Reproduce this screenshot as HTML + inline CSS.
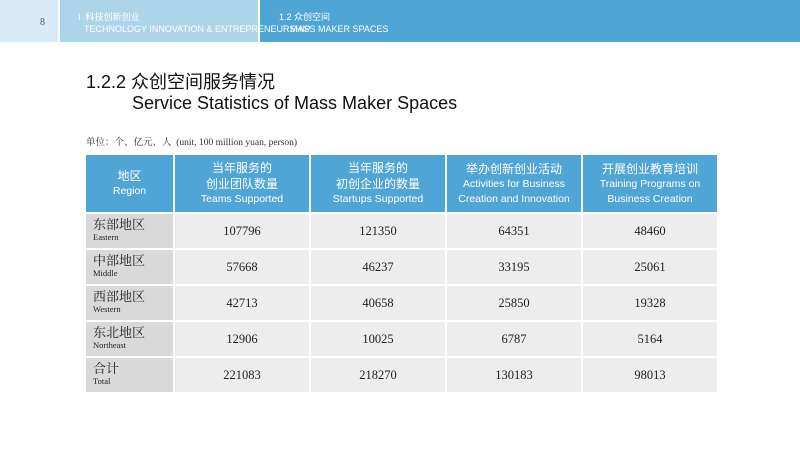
<!DOCTYPE html>
<html><head><meta charset="utf-8">
<style>
body{margin:0;width:800px;height:463px;background:#fff;position:relative;overflow:hidden;font-family:"Liberation Sans","Noto Sans CJK SC",sans-serif;}
.band{position:absolute;top:0;height:42px;}
.hd{position:absolute;color:#fff;font-size:9px;line-height:11px;}
table{position:absolute;left:86px;top:155px;border-collapse:separate;border-spacing:2px 2px;margin:-2px;}
th{background:#4fa6d6;color:#fff;font-weight:normal;font-size:10.5px;line-height:15px;height:57px;padding:0;text-align:center;}
th .cn{font-size:12px;line-height:16px;}
td{background:#ededee;height:34px;padding:0;text-align:center;font-family:"Liberation Serif","Noto Serif CJK SC",serif;font-size:12.5px;color:#222;}
td.rg{background:#d9d9da;text-align:left;padding-left:7px;line-height:13px;}
td.rg .cn{font-size:13px;}
td.rg .en{font-size:8.5px;}
</style></head><body>
<div class="band" style="left:0;width:58px;background:#d9ebf6;"></div>
<div class="band" style="left:60px;width:198px;background:#acd5e9;"></div>
<div class="band" style="left:260px;width:540px;background:#4fa6d6;"></div>
<div style="position:absolute;left:40px;top:17px;font-family:'Liberation Serif',serif;font-size:10px;color:#555;">8</div>
<div class="hd" style="left:78px;top:12px;">I&nbsp; 科技创新创业</div>
<div class="hd" style="left:84px;top:24px;">TECHNOLOGY INNOVATION &amp; ENTREPRENEURSHIP</div>
<div class="hd" style="left:279px;top:12px;">1.2 众创空间</div>
<div class="hd" style="left:290px;top:24px;">MASS MAKER SPACES</div>
<div style="position:absolute;left:86px;top:68px;font-size:18px;color:#111;">1.2.2 众创空间服务情况</div>
<div style="position:absolute;left:132px;top:93px;font-size:18px;color:#111;">Service Statistics of Mass Maker Spaces</div>
<div style="position:absolute;left:86px;top:134px;font-family:'Liberation Serif','Noto Serif CJK SC',serif;font-size:9.5px;color:#333;">单位：个、亿元、人&nbsp; (unit, 100 million yuan, person)</div>
<table>
<tr>
<th style="width:87px"><div class="cn">地区</div>Region</th>
<th style="width:134px"><div class="cn">当年服务的<br>创业团队数量</div>Teams Supported</th>
<th style="width:134px"><div class="cn">当年服务的<br>初创企业的数量</div>Startups Supported</th>
<th style="width:134px"><div class="cn">举办创新创业活动</div>Activities for Business<br>Creation and Innovation</th>
<th style="width:134px"><div class="cn">开展创业教育培训</div>Training Programs on<br>Business Creation</th>
</tr>
<tr><td class="rg"><div class="cn">东部地区</div><div class="en">Eastern</div></td><td>107796</td><td>121350</td><td>64351</td><td>48460</td></tr>
<tr><td class="rg"><div class="cn">中部地区</div><div class="en">Middle</div></td><td>57668</td><td>46237</td><td>33195</td><td>25061</td></tr>
<tr><td class="rg"><div class="cn">西部地区</div><div class="en">Western</div></td><td>42713</td><td>40658</td><td>25850</td><td>19328</td></tr>
<tr><td class="rg"><div class="cn">东北地区</div><div class="en">Northeast</div></td><td>12906</td><td>10025</td><td>6787</td><td>5164</td></tr>
<tr><td class="rg"><div class="cn">合计</div><div class="en">Total</div></td><td>221083</td><td>218270</td><td>130183</td><td>98013</td></tr>
</table>
</body></html>
